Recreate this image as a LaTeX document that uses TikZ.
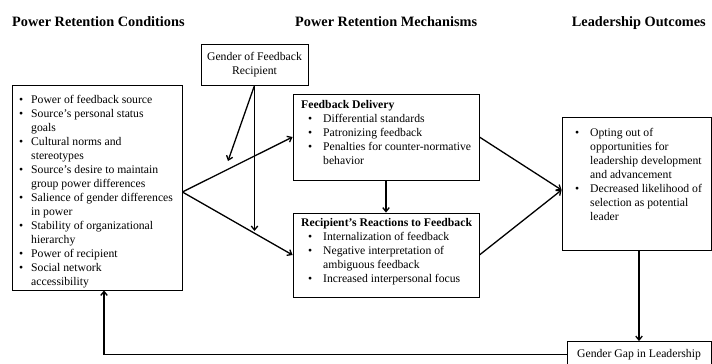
\documentclass[tikz,border=0pt]{standalone}
\usepackage{fontspec}
\setmainfont{Liberation Serif}
\usetikzlibrary{arrows.meta}
\begin{document}
\begin{tikzpicture}[x=1pt,y=-1pt,
  box/.style={draw, line width=0.8pt, inner sep=0pt},
  txt/.style={inner sep=0pt, anchor=base west, font=\fontsize{11.7}{14}\selectfont},
  ttl/.style={inner sep=0pt, anchor=base west, font=\fontsize{14.3}{17}\selectfont\bfseries},
  conn/.style={line width=1.3pt, -{Straight Barb[length=4pt,width=6.5pt]}}]
\useasboundingbox (0,0) rectangle (712,364);
% titles
\node[ttl] (t1) at (12,26.5) {Power Retention Conditions};
\node[ttl] (t2) at (295,26.5) {Power Retention Mechanisms};
\node[ttl, anchor=base east] (t3) at (706,26.5) {Leadership Outcomes};
% boxes
\node[box, minimum width=107pt, minimum height=41pt, align=center,
      font=\fontsize{11.7}{14}\selectfont] (g) at (254.5,64.5) {Gender of Feedback\\Recipient};
\node[box, minimum width=170pt, minimum height=205pt] (lb) at (97,187.5) {};
\node[box, minimum width=186pt, minimum height=86pt] (fd) at (386,137) {};
\node[box, minimum width=186pt, minimum height=84pt] (rr) at (386,255) {};
\node[box, minimum width=149pt, minimum height=133pt] (ob) at (636.5,183.5) {};
\node[box, minimum width=144pt, minimum height=26pt,
      font=\fontsize{11.7}{14}\selectfont] (gg) at (639,354.5) {Gender Gap in Leadership};
% texts
\node[txt] (lbt) at (19,103.5) {\begin{tabular}[t]{@{}p{12pt}@{}l@{}}
\textbullet & Power of feedback source\\
\textbullet & Source’s personal status\\
 & goals\\
\textbullet & Cultural norms and\\
 & stereotypes\\
\textbullet & Source’s desire to maintain\\
 & group power differences\\
\textbullet & Salience of gender differences\\
 & in power\\
\textbullet & Stability of organizational\\
 & hierarchy\\
\textbullet & Power of recipient\\
\textbullet & Social network\\
 & accessibility
\end{tabular}};
\node[txt] (fdt) at (301,108.5) {\begin{tabular}[t]{@{}p{22pt}@{}l@{}}
\multicolumn{2}{@{}l@{}}{\bfseries Feedback Delivery}\\
\hspace*{7pt}\textbullet & Differential standards\\
\hspace*{7pt}\textbullet & Patronizing feedback\\
\hspace*{7pt}\textbullet & Penalties for counter-normative\\
 & behavior
\end{tabular}};
\node[txt] (rrt) at (301,226.5) {\begin{tabular}[t]{@{}p{22pt}@{}l@{}}
\multicolumn{2}{@{}l@{}}{\bfseries Recipient’s Reactions to Feedback}\\
\hspace*{7pt}\textbullet & Internalization of feedback\\
\hspace*{7pt}\textbullet & Negative interpretation of\\
 & ambiguous feedback\\
\hspace*{7pt}\textbullet & Increased interpersonal focus
\end{tabular}};
\node[txt] (obt) at (575,136.5) {\begin{tabular}[t]{@{}p{15pt}@{}l@{}}
\textbullet & Opting out of\\
 & opportunities for\\
 & leadership development\\
 & and advancement\\
\textbullet & Decreased likelihood of\\
 & selection as potential\\
 & leader
\end{tabular}};
% connectors
\coordinate (m1) at (228,161);
\coordinate (m2) at (254.5,231);
\draw[conn] (g.south) -- (m1);
\draw[conn] (g.south) -- (m2);
\draw[conn] ([yshift=-4.5pt]lb.east) -- (fd.west);
\draw[conn] ([yshift=-4.5pt]lb.east) -- (rr.west);
\draw[conn] (fd.east) -- ([yshift=-6.5pt]ob.west);
\draw[conn] (rr.east) -- ([yshift=-6.5pt]ob.west);
\draw[conn] (fd.south) -- (rr.north);
\draw[conn] (gg.north |- ob.south) -- (gg.north);
\draw[conn] (gg.west) -| ([xshift=7pt]lb.south);
\end{tikzpicture}
\end{document}
